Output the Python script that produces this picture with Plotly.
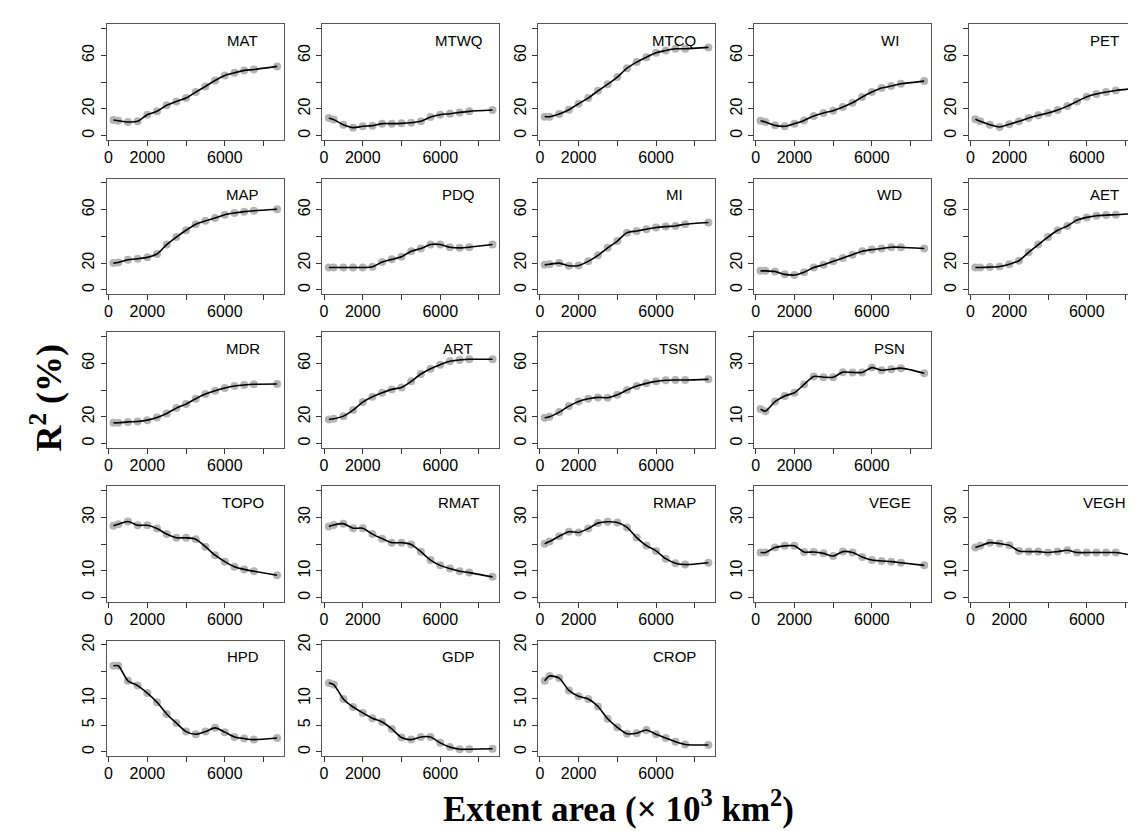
import plotly.graph_objects as go

W, H = 1136, 831

# ---- data -------------------------------------------------------------
extent_km2 = [250, 500, 1000, 1500, 2000, 2500, 3000, 3500, 4000, 4500,
              5000, 5500, 6000, 6500, 7000, 7500, 8700]

MAT = [11.7, 11.2, 10.2, 10.7, 15.7, 18.2, 22.7, 25.6, 28.1, 32.6, 36.8, 41.3, 45.0, 47.0, 48.8, 49.5, 51.8]
MTWQ = [13.2, 12.0, 8.2, 6.0, 7.0, 7.5, 9.0, 9.0, 9.2, 9.7, 10.7, 13.9, 15.7, 16.4, 17.4, 18.2, 19.2]
MTCQ = [14.2, 14.2, 16.2, 19.4, 23.9, 28.1, 33.5, 38.5, 43.8, 50.5, 55.0, 58.7, 62.0, 63.7, 65.0, 65.0, 66.0]
WI = [11.2, 10.2, 7.7, 7.0, 9.0, 11.4, 14.7, 16.9, 18.7, 21.4, 24.6, 28.9, 32.6, 35.6, 37.1, 38.8, 40.8]
PET = [12.2, 10.7, 8.2, 6.5, 8.5, 10.7, 13.2, 15.2, 16.9, 19.2, 22.1, 25.6, 29.1, 31.1, 32.6, 33.8, 35.6]
MAP = [20.0, 20.5, 22.5, 23.3, 24.3, 26.8, 33.9, 39.5, 44.6, 49.1, 51.6, 53.7, 56.2, 57.5, 58.5, 59.2, 60.3]
PDQ = [16.7, 16.7, 16.7, 16.7, 16.7, 17.2, 20.8, 22.8, 24.8, 28.9, 30.9, 33.9, 33.9, 31.9, 31.4, 31.9, 33.9]
MI = [18.7, 19.2, 20.0, 18.0, 18.2, 21.3, 25.8, 31.4, 36.5, 42.8, 44.0, 45.3, 46.6, 47.3, 47.8, 49.1, 50.4]
WD = [14.2, 14.2, 13.7, 11.6, 11.1, 13.2, 16.7, 18.7, 21.3, 23.8, 26.3, 28.9, 30.1, 30.9, 31.9, 31.9, 30.9]
AET = [16.7, 16.7, 17.0, 17.5, 19.2, 21.8, 28.1, 33.9, 39.5, 44.6, 47.8, 52.2, 54.2, 55.4, 55.9, 56.2, 57.2]
MDR = [15.5, 15.5, 16.2, 16.5, 17.5, 19.5, 22.5, 26.5, 29.5, 33.5, 37.0, 39.5, 41.5, 43.0, 43.8, 44.3, 44.5]
ART = [18.0, 18.5, 20.5, 25.0, 31.0, 35.0, 38.0, 40.5, 42.0, 46.5, 52.0, 56.0, 59.0, 61.5, 62.5, 63.0, 63.0]
TSN = [19.3, 20.0, 23.5, 28.0, 31.5, 33.5, 34.5, 34.3, 36.5, 40.0, 43.0, 45.0, 46.5, 47.3, 47.5, 47.5, 48.0]
PSN = [12.9, 12.1, 15.7, 17.8, 19.0, 22.1, 25.1, 24.8, 24.8, 26.7, 26.6, 26.6, 28.4, 27.4, 27.8, 28.2, 26.3]
TOPO = [26.9, 27.5, 28.5, 27.1, 27.1, 25.9, 23.8, 22.4, 22.4, 21.9, 19.1, 15.9, 13.5, 11.6, 10.6, 9.9, 8.4]
RMAT = [26.6, 27.2, 27.7, 26.0, 26.0, 23.8, 22.1, 20.6, 20.6, 19.9, 17.2, 14.1, 12.1, 10.9, 9.9, 9.4, 7.8]
RMAP = [20.2, 21.0, 23.0, 24.7, 24.4, 25.9, 27.9, 28.4, 28.1, 26.3, 22.5, 19.5, 17.5, 14.6, 12.9, 12.4, 13.1]
VEGE = [16.9, 16.9, 18.75, 19.4, 19.4, 17.1, 17.1, 16.6, 15.6, 17.25, 16.9, 15.25, 14.1, 13.75, 13.5, 13.1, 12.1]
VEGH = [18.75, 19.4, 20.6, 20.25, 19.6, 17.5, 17.25, 17.25, 16.9, 17.25, 17.75, 16.9, 16.9, 16.9, 16.9, 16.9, 15.4]
HPD = [16.1, 16.1, 13.3, 12.4, 11.0, 9.3, 7.1, 5.4, 3.8, 3.3, 3.8, 4.5, 3.7, 2.8, 2.5, 2.3, 2.6]
GDP = [12.9, 12.6, 9.9, 8.4, 7.3, 6.3, 5.6, 4.3, 2.7, 2.3, 2.8, 2.8, 1.7, 0.9, 0.5, 0.5, 0.6]
CROP = [13.3, 14.2, 13.8, 11.5, 10.4, 9.9, 8.5, 6.2, 4.6, 3.4, 3.5, 4.1, 3.3, 2.6, 1.9, 1.4, 1.3]

x_tickvals = [0, 2000, 4000, 6000, 8000]
x_ticktext = ["0", "2000", "", "6000", ""]

y_scales = {
    "80": dict(range=[-3.2, 83.2], tickvals=[0, 20, 40, 60, 80], ticktext=["0", "20", "", "60", ""]),
    "40": dict(range=[-1.6, 41.6], tickvals=[0, 10, 20, 30, 40], ticktext=["0", "10", "", "30", ""]),
    "20": dict(range=[-0.8, 20.8], tickvals=[0, 5, 10, 15, 20], ticktext=["0", "5", "10", "", "20"]),
}

# (name, values, row, col, y-scale)
panels = [
    ("MAT", MAT, 0, 0, "80"), ("MTWQ", MTWQ, 0, 1, "80"), ("MTCQ", MTCQ, 0, 2, "80"),
    ("WI", WI, 0, 3, "80"), ("PET", PET, 0, 4, "80"),
    ("MAP", MAP, 1, 0, "80"), ("PDQ", PDQ, 1, 1, "80"), ("MI", MI, 1, 2, "80"),
    ("WD", WD, 1, 3, "80"), ("AET", AET, 1, 4, "80"),
    ("MDR", MDR, 2, 0, "80"), ("ART", ART, 2, 1, "80"), ("TSN", TSN, 2, 2, "80"),
    ("PSN", PSN, 2, 3, "40"),
    ("TOPO", TOPO, 3, 0, "40"), ("RMAT", RMAT, 3, 1, "40"), ("RMAP", RMAP, 3, 2, "40"),
    ("VEGE", VEGE, 3, 3, "40"), ("VEGH", VEGH, 3, 4, "40"),
    ("HPD", HPD, 4, 0, "20"), ("GDP", GDP, 4, 1, "20"), ("CROP", CROP, 4, 2, "20"),
]

# ---- layout geometry (pixels) -----------------------------------------
X_LO, X_HI = -88, 9038
col_left = [96.2, 312.4, 529.0, 745.6, 961.2]
box_w = 177.4
row_top = [9.5, 165.0, 320.0, 475.5, 631.0]
box_h = 116.5

fig = go.Figure()
layout = dict(
    width=W, height=H,
    margin=dict(l=0, r=0, t=0, b=0),
    paper_bgcolor="white", plot_bgcolor="white",
    showlegend=False, hovermode=False,
    annotations=[],
)

tick_font = dict(family="Liberation Sans, Arial, sans-serif", size=16, color="black")

for i, (name, vals, r, c, sc) in enumerate(panels, start=1):
    xa, ya = f"x{i}", f"y{i}"
    l = col_left[c]
    rr = l + box_w
    x_hi = X_HI
    if rr > W:  # last column is cut by the image edge
        x_hi = X_LO + (W - l) / box_w * (X_HI - X_LO)
        rr_dom = W
    else:
        rr_dom = rr
    top = row_top[r]
    bot = top + box_h
    xdom = [l / W, rr_dom / W]
    ydom = [1 - bot / H, 1 - top / H]

    fig.add_trace(go.Scatter(
        x=extent_km2, y=vals, mode="markers",
        marker=dict(size=8, color="#b4b4b4", line=dict(width=0)),
        xaxis=xa, yaxis=ya, cliponaxis=False))
    fig.add_trace(go.Scatter(
        x=extent_km2, y=vals, mode="lines",
        line=dict(color="black", width=1.6, shape="spline", smoothing=0.7),
        xaxis=xa, yaxis=ya))

    layout[f"xaxis{i}"] = dict(
        domain=xdom, anchor=ya, range=[X_LO, x_hi],
        tickmode="array", tickvals=x_tickvals, ticktext=x_ticktext,
        ticks="outside", ticklen=5, tickwidth=1, tickcolor="#333",
        ticklabelstandoff=-2,
        showline=True, mirror=True, linecolor="#555", linewidth=1,
        showgrid=False, zeroline=False, tickfont=tick_font, fixedrange=True,
    )
    ys = y_scales[sc]
    layout[f"yaxis{i}"] = dict(
        domain=ydom, anchor=xa, range=ys["range"],
        tickmode="array", tickvals=ys["tickvals"], ticktext=ys["ticktext"],
        ticks="outside", ticklen=5, tickwidth=1, tickcolor="#333",
        showline=True, mirror=True, linecolor="#555", linewidth=1,
        showgrid=False, zeroline=False, tickfont=tick_font, tickangle=-90,
        fixedrange=True,
    )
    layout["annotations"].append(dict(
        text=name, xref="paper", yref="paper",
        x=(rr - 41) / W, y=1 - (top + 16) / H,
        xanchor="center", yanchor="middle", showarrow=False,
        font=dict(family="Liberation Sans, Arial, sans-serif", size=15, color="black"),
    ))

# axis titles
layout["annotations"].append(dict(
    text="<b>R<sup>2</sup>\u00a0(%)</b>", xref="paper", yref="paper",
    x=36 / W, y=1 - 386 / H, xanchor="center", yanchor="middle",
    textangle=-90, showarrow=False,
    font=dict(family="Liberation Serif, Times New Roman, serif", size=36, color="black"),
))
layout["annotations"].append(dict(
    text="<b>Extent area (× 10<sup>3</sup> km<sup>2</sup>)</b>", xref="paper", yref="paper",
    x=610 / W, y=1 - 798 / H, xanchor="center", yanchor="middle",
    showarrow=False,
    font=dict(family="Liberation Serif, Times New Roman, serif", size=35, color="black"),
))

fig.update_layout(**layout)
fig.write_html("out.html")
